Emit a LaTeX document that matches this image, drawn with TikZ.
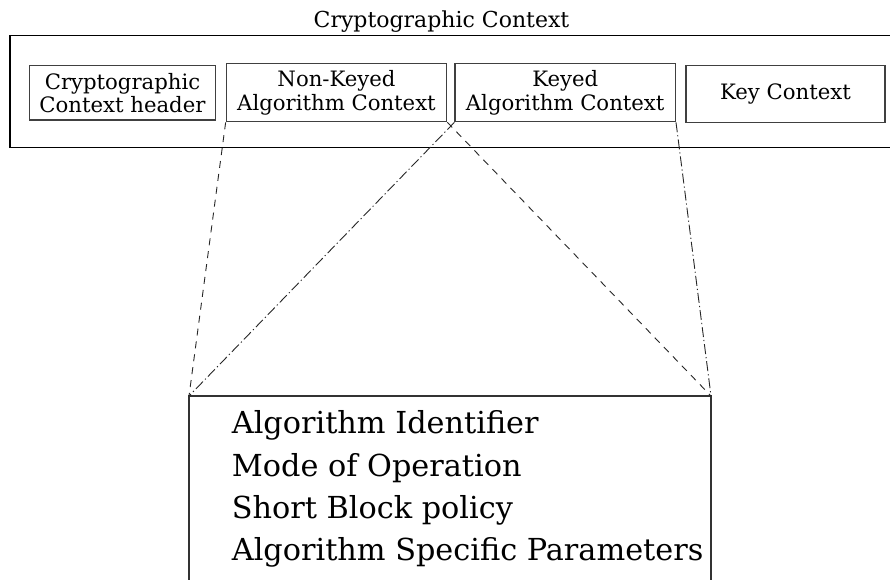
\documentclass[tikz,border=0pt]{standalone}
\usepackage{fontspec}
\setmainfont{DejaVu Serif}
\begin{document}
\begin{tikzpicture}[x=1pt,y=-1pt,
  ctxbox/.style={draw=black!75, line width=1.3pt, inner sep=0pt, align=center,
    font=\fontsize{21.2}{23.6}\selectfont},
  outerline/.style={draw=black, line width=1.2pt},
  dashlink/.style={draw=black!85, line width=0.9pt, dash pattern=on 7pt off 6pt},
  dotlink/.style={draw=black!85, line width=0.9pt, dash pattern=on 10pt off 3pt on 1.2pt off 3pt},
  itemtext/.style={anchor=base west, inner sep=0pt, font=\fontsize{30.3}{34}\selectfont}]
\useasboundingbox (0,0) rectangle (890,579);
\clip (0,0) rectangle (890,579);
\fill[white] (0,0) rectangle (890,579);
% title
\node[anchor=base, inner sep=0pt, font=\fontsize{22}{26}\selectfont] (title) at (441.5,27.7) {Cryptographic Context};
% outer box (right edge cut off)
\draw[outerline] (10,35.7) rectangle (900,147.7);
% boxes
\node[ctxbox, minimum width=186.4pt, minimum height=54.3pt] (hdr) at (122.5,92.9) {Cryptographic\\Context header};
\node[ctxbox, minimum width=220.4pt, minimum height=58.4pt] (nka) at (336.5,92.5) {Non-Keyed\\Algorithm Context};
\node[ctxbox, minimum width=220.3pt, minimum height=58.4pt] (ka) at (565.2,92.5) {Keyed\\Algorithm Context};
\node[ctxbox, minimum width=199pt, minimum height=56.6pt] (kc) at (785.5,94) {Key Context};
% lower box (bottom cut off)
\coordinate (lowNW) at (189,396);
\coordinate (lowNE) at (711,396);
\draw[draw=black!80, line width=1.3pt] (189,600) -- (lowNW) -- (lowNE) -- (711,600);
% links
\draw[dashlink] (nka.south west) -- (lowNW);
\draw[dashlink] (nka.south east) -- (lowNE);
\draw[dotlink] (ka.south west) -- (lowNW);
\draw[dotlink] (ka.south east) -- (lowNE);
% items
\node[itemtext] (i1) at (231.7,433) {Algorithm Identifier};
\node[itemtext] (i2) at (231.7,476) {Mode of Operation};
\node[itemtext] (i3) at (231.7,518) {Short Block policy};
\node[itemtext] (i4) at (231.7,560) {Algorithm Specific Parameters};
\end{tikzpicture}
\end{document}
